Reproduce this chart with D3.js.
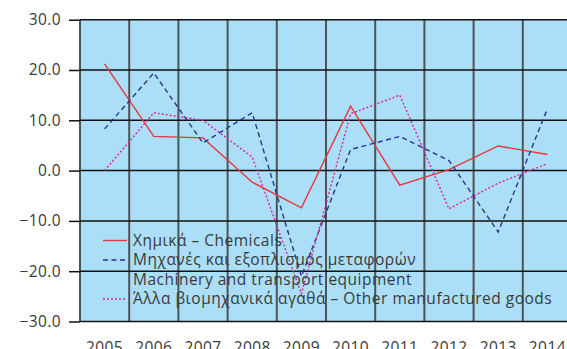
<!DOCTYPE html>
<html>
<head>
<meta charset="utf-8">
<script src="https://cdn.jsdelivr.net/npm/d3@7"></script>
<style>
  html, body { margin: 0; padding: 0; background: #fff; overflow: hidden; }
  svg text { font-family: "Open Sans", "Noto Sans", sans-serif; fill: #3a3a3a; }
</style>
</head>
<body>
<svg id="chart" width="567" height="349"></svg>
<script>
var years = ["2005", "2006", "2007", "2008", "2009", "2010", "2011", "2012", "2013", "2014"];
var chemicals = [21.2, 6.8, 6.5, -2.3, -7.4, 12.8, -2.9, 0.2, 4.9, 3.2];
var machinery = [8.3, 19.4, 5.5, 11.5, -21.0, 4.2, 6.8, 2.0, -12.2, 12.3];
var otherGoods = [0.0, 11.5, 10.0, 2.7, -24.5, 11.3, 15.0, -7.6, -2.5, 1.4];
var yTicks = [-30, -20, -10, 0, 10, 20, 30];
var legendLabels = [
    "Χημικά – Chemicals",
    "Μηχανές και εξοπλισμός μεταφορών",
    "Machinery and transport equipment",
    "Άλλα βιομηχανικά αγαθά – Other manufactured goods"
];

var series = [
    { values: chemicals, colour: "#e8353b", dash: null },
    { values: machinery, colour: "#2b338f", dash: "5,3.5" },
    { values: otherGoods, colour: "#e0209c", dash: "2,2" }
];

var svg = d3.select("#chart");

// plot area runs past the right edge of the picture
var x = d3.scaleBand()
    .domain(years)
    .range([80, 572])
    .padding(0);

var y = d3.scaleLinear()
    .domain([-30, 30])
    .range([321.5, 19.7]);

// background
svg.append("rect")
    .attr("x", 80).attr("y", y(30))
    .attr("width", 492).attr("height", y(-30) - y(30))
    .attr("fill", "#abdff8");

// vertical grid at band edges
var edges = years.map(function(d) { return x(d); }).concat([x.range()[1]]);
svg.append("g").selectAll("line")
    .data(edges)
    .enter().append("line")
        .attr("x1", function(d) { return d; })
        .attr("x2", function(d) { return d; })
        .attr("y1", y(30)).attr("y2", y(-30))
        .attr("stroke", "#4d5357")
        .attr("stroke-width", 2);

// horizontal grid
svg.append("g").selectAll("line")
    .data(yTicks)
    .enter().append("line")
        .attr("x1", 80).attr("x2", 572)
        .attr("y1", function(d) { return y(d); })
        .attr("y2", function(d) { return y(d); })
        .attr("stroke", "#111")
        .attr("stroke-width", 1.5);

// y axis
var yAxis = svg.append("g")
    .attr("transform", "translate(80,0)")
    .call(d3.axisLeft(y).tickValues(yTicks).tickSize(11).tickPadding(8)
        .tickFormat(d3.format(".1f")));
yAxis.select(".domain").remove();
yAxis.selectAll(".tick line").attr("stroke", "#111").attr("stroke-width", 1.5);
yAxis.selectAll(".tick text")
    .attr("font-size", "15.5px")
    .attr("letter-spacing", "0.4px")
    .style("font-family", "'Open Sans', sans-serif")
    .attr("fill", "#3a3a3a");

// x labels
svg.append("g").selectAll("text")
    .data(years)
    .enter().append("text")
        .attr("x", function(d) { return x(d) + x.bandwidth() / 2; })
        .attr("y", 353)
        .attr("text-anchor", "middle")
        .attr("font-size", "15.5px")
        .attr("letter-spacing", "0.4px")
        .text(function(d) { return d; });

// lines
var line = d3.line()
    .x(function(d, i) { return x(years[i]) + x.bandwidth() / 2; })
    .y(function(d) { return y(d); });

series.forEach(function(s) {
    svg.append("path")
        .datum(s.values)
        .attr("d", line)
        .attr("fill", "none")
        .attr("stroke", s.colour)
        .attr("stroke-width", 1.4)
        .attr("stroke-dasharray", s.dash);
});

// legend
var legendRows = [240.5, 260, 279.5, 299];
var legendKeys = [0, 1, null, 2];   // third row is the wrapped second label
var legend = svg.append("g");
legendRows.forEach(function(ry, i) {
    var k = legendKeys[i];
    if (k !== null) {
        legend.append("line")
            .attr("x1", 103).attr("x2", 127)
            .attr("y1", ry).attr("y2", ry)
            .attr("stroke", series[k].colour)
            .attr("stroke-width", 1.4)
            .attr("stroke-dasharray", series[k].dash);
    }
    legend.append("text")
        .attr("x", 133)
        .attr("y", ry)
        .attr("dy", "0.35em")
        .attr("font-size", "15.5px")
        .attr("letter-spacing", "0.5px")
        .text(legendLabels[i]);
});
</script>
</body>
</html>
